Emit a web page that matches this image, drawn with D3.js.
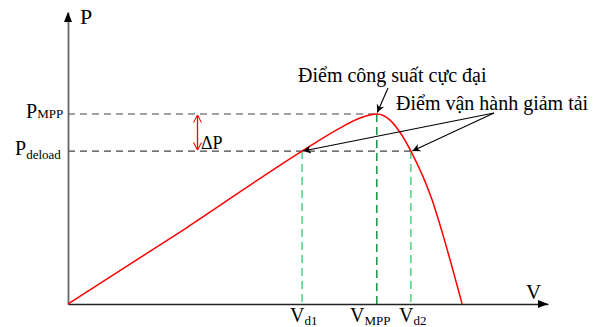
<!DOCTYPE html>
<html><head><meta charset="utf-8">
<script src="https://cdn.jsdelivr.net/npm/d3@7"></script>
<style>html,body{margin:0;padding:0;background:#fff;} text{font-family:"Liberation Serif";}</style>
</head><body>
<script>
// P-V curve (normalised: V relative to Voc, P relative to P_MPP)
const curveV = [0, 0.30, 0.594, 0.690, 0.741, 0.7835, 0.817, 0.841, 0.870, 0.924, 0.944, 1.0];
const curveP = [0, 0.40, 0.805, 0.926, 0.979, 1.0, 0.968, 0.908, 0.805, 0.547, 0.416, 0];
// key voltages
const vNames = ["d1", "MPP", "d2"];
const vValues = [0.594, 0.7835, 0.870];
// power levels
const pNames = ["MPP", "deload"];
const pValues = [1.0, 0.805];
const axisLabels = ["P", "V"];
const noteMPP = "Điểm công suất cực đại";
const noteDeload = "Điểm vận hành giảm tải";

const W = 603, H = 327;
const x = d3.scaleLinear().domain([0, 1.218]).range([68, 548]);
const y = d3.scaleLinear().domain([0, 1.537]).range([304, 12]);

const svg = d3.select("body").append("svg").attr("width", W).attr("height", H)
  .style("display", "block");
const defs = svg.append("defs");
defs.append("marker").attr("id", "ann").attr("viewBox", "0 0 10 10").attr("refX", 10).attr("refY", 5)
  .attr("markerWidth", 11).attr("markerHeight", 8).attr("markerUnits", "userSpaceOnUse").attr("orient", "auto")
  .append("path").attr("d", "M0,0L10,5L0,10L3,5Z").attr("fill", "#000");
defs.append("marker").attr("id", "red").attr("viewBox", "0 0 10 10").attr("refX", 9.5).attr("refY", 5)
  .attr("markerWidth", 8).attr("markerHeight", 9).attr("markerUnits", "userSpaceOnUse").attr("orient", "auto-start-reverse")
  .append("path").attr("d", "M0,0L9.5,5L0,10").attr("fill", "none").attr("stroke", "#ff0000").attr("stroke-width", 1.3);

// dashed horizontal levels
pValues.forEach((p, i) => {
  const xe = i === 0 ? x(vValues[1]) : x(vValues[2]);
  svg.append("line").attr("x1", x(0)).attr("x2", xe).attr("y1", y(p)).attr("y2", y(p))
    .attr("stroke", "#444").attr("stroke-width", 1.2).attr("stroke-dasharray", "7,5");
});
// dashed vertical lines
const vColors = ["#5fd38a", "#1f9a4a", "#5fd38a"];
vValues.forEach((v, i) => {
  const pTop = i === 1 ? pValues[0] : pValues[1];
  svg.append("line").attr("x1", x(v)).attr("x2", x(v)).attr("y1", y(pTop)).attr("y2", y(0))
    .attr("stroke", vColors[i]).attr("stroke-width", 1.6).attr("stroke-dasharray", "8,5");
});

// axes
const gx = svg.append("g").attr("transform", `translate(0,${y(0)})`)
  .call(d3.axisBottom(x).tickValues([]).tickSizeOuter(0));
gx.select(".domain").attr("stroke", "#222").attr("stroke-width", 1.6);
const gy = svg.append("g").attr("transform", `translate(${x(0)},0)`)
  .call(d3.axisLeft(y).tickValues([]).tickSizeOuter(0));
gy.select(".domain").attr("stroke", "#666").attr("stroke-width", 1.8);
svg.append("path").attr("d", `M${x(0)-4},${y(1.537)+10}L${x(0)},${y(1.537)}L${x(0)+4},${y(1.537)+10}Z`).attr("fill", "#000");
svg.append("path").attr("d", `M${x(1.218)-10},${y(0)-4}L${x(1.218)},${y(0)}L${x(1.218)-10},${y(0)+4}Z`).attr("fill", "#000");

// P-V curve
const pts = curveV.map((v, i) => [v, curveP[i]]);
svg.append("path").datum(pts)
  .attr("d", d3.line().x(d => x(d[0])).y(d => y(d[1])).curve(d3.curveMonotoneX))
  .attr("fill", "none").attr("stroke", "#ff0000").attr("stroke-width", 1.5);

// ΔP arrow
svg.append("line").attr("x1", 197.5).attr("x2", 197.5).attr("y1", y(pValues[0]) + 1).attr("y2", y(pValues[1]) - 1)
  .attr("stroke", "#ff0000").attr("stroke-width", 1.3)
  .attr("marker-end", "url(#red)").attr("marker-start", "url(#red)");
svg.append("text").attr("x", 201).attr("y", 148.5).attr("font-size", 18).text("ΔP");

// axis labels
svg.append("text").attr("x", 80).attr("y", 23.5).attr("font-size", 22).text(axisLabels[0]);
svg.append("text").attr("x", 526).attr("y", 298.5).attr("font-size", 21).text(axisLabels[1]);

// P level labels
const pLabelX = [26, 15];
pValues.forEach((p, i) => {
  const t = svg.append("text").attr("x", pLabelX[i]).attr("y", y(p) + 3.5).attr("font-size", 20);
  t.append("tspan").text("P");
  t.append("tspan").attr("font-size", 13).attr("dy", i === 0 ? 0 : 4).text(pNames[i]);
});
// V labels
const vLabelX = [290, 350, 399];
vValues.forEach((v, i) => {
  const t = svg.append("text").attr("x", vLabelX[i]).attr("y", 322).attr("font-size", 20);
  t.append("tspan").text("V");
  t.append("tspan").attr("font-size", 13).attr("dy", 3).text(vNames[i]);
});

// annotations
svg.append("text").attr("x", 298).attr("y", 82).attr("font-size", 20).text(noteMPP);
svg.append("text").attr("x", 396).attr("y", 110).attr("font-size", 20).text(noteDeload);
svg.append("line").attr("x1", 388).attr("y1", 88).attr("x2", x(vValues[1]) + 0.5).attr("y2", y(pValues[0]) - 1.5)
  .attr("stroke", "#000").attr("stroke-width", 1.1).attr("marker-end", "url(#ann)");
[0, 2].forEach(i => {
  svg.append("line").attr("x1", 494).attr("y1", 113).attr("x2", x(vValues[i]) + (i === 0 ? 1 : 1.5)).attr("y2", y(pValues[1]))
    .attr("stroke", "#000").attr("stroke-width", 1.1).attr("marker-end", "url(#ann)");
});
</script>
</body></html>
